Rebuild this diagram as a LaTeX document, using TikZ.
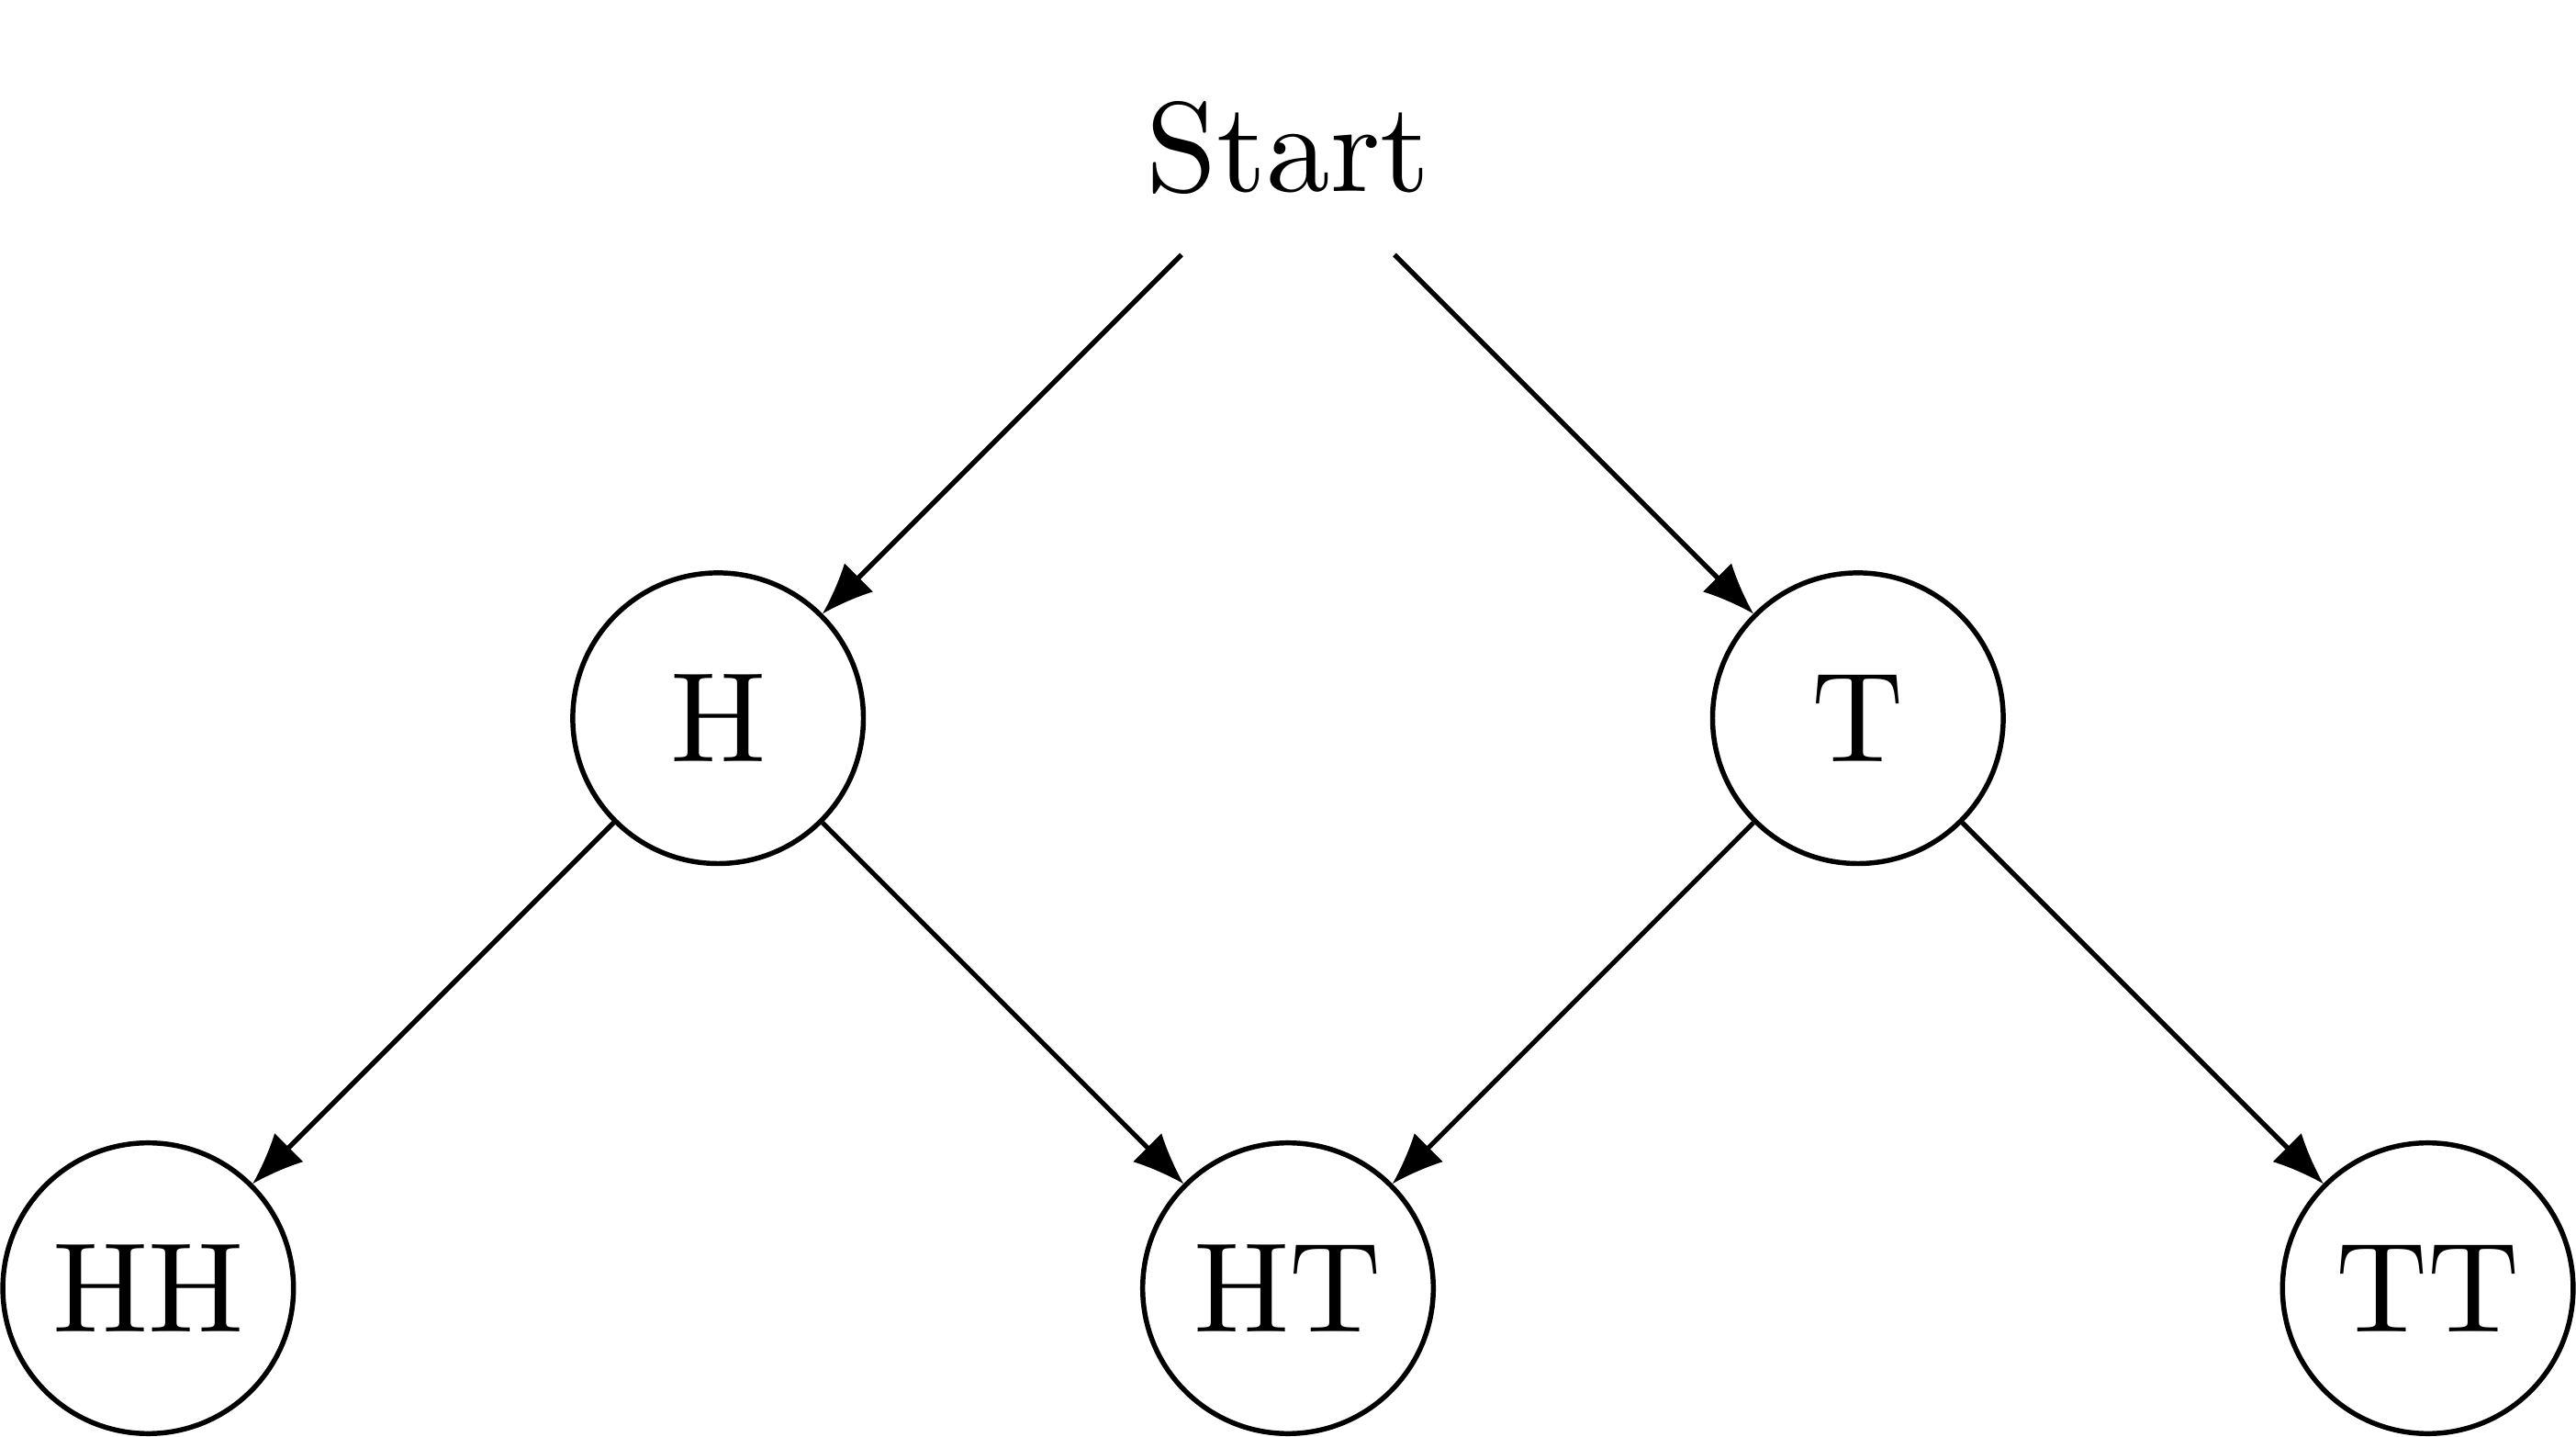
\documentclass[tikz,border=0pt]{standalone}
\usepackage{fontspec}
\newfontfamily\lmten{lmroman10-regular}[Extension=.otf]
\usetikzlibrary{arrows.meta}
\pgfdeclarearrow{
  name=Cusp,
  setup code={
    \pgfarrowssettipend{0pt}
    \pgfarrowssetlineend{-6pt}
    \pgfarrowssetbackend{-10.2pt}
    \pgfarrowssetvisualbackend{-10.2pt}
    \pgfarrowsupperhullpoint{0pt}{0pt}
    \pgfarrowsupperhullpoint{-10.2pt}{4pt}
  },
  drawing code={
    \pgfpathmoveto{\pgfqpoint{0pt}{0pt}}
    \pgfpathcurveto{\pgfqpoint{-3pt}{0.8pt}}{\pgfqpoint{-7.2pt}{2.4pt}}{\pgfqpoint{-10.2pt}{4pt}}
    \pgfpathlineto{\pgfqpoint{-10.2pt}{-4pt}}
    \pgfpathcurveto{\pgfqpoint{-7.2pt}{-2.4pt}}{\pgfqpoint{-3pt}{-0.8pt}}{\pgfqpoint{0pt}{0pt}}
    \pgfpathclose
    \pgfusepathqfill
  }
}
\begin{document}
\begin{tikzpicture}[
  bigfont/.style={font=\lmten\fontsize{25.5}{30}\selectfont},
  state/.style={circle, draw, line width=1pt, minimum size=2.04cm, inner sep=0pt, bigfont},
  startnode/.style={circle, minimum size=2.1cm, inner sep=0pt, bigfont},
  edge/.style={line width=0.95pt, -Cusp}
]
\useasboundingbox (-9.04,-1.04) rectangle (9.04,9.04);
\node[startnode] (s) at (0,8) {Start};
\node[state] (h) at (-4,4) {H};
\node[state] (t) at (4,4) {T};
\node[state] (hh) at (-8,0) {HH};
\node[state] (ht) at (0,0) {HT};
\node[state] (tt) at (8,0) {TT};
\draw[edge] (s) -- (h);
\draw[edge] (s) -- (t);
\draw[edge] (h) -- (hh);
\draw[edge] (h) -- (ht);
\draw[edge] (t) -- (ht);
\draw[edge] (t) -- (tt);
\end{tikzpicture}
\end{document}
